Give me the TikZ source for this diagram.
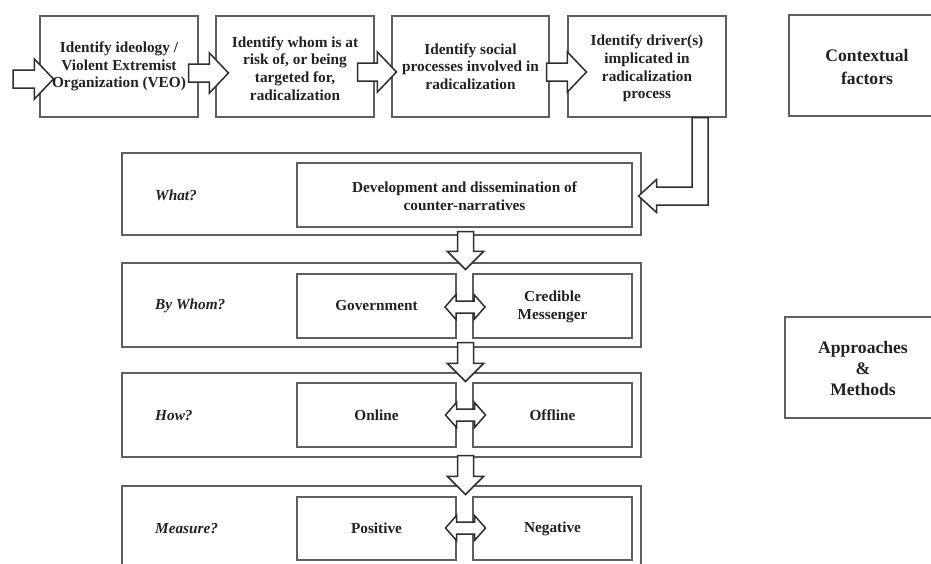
\documentclass[tikz,border=0pt]{standalone}
\usepackage{fontspec}
\setmainfont{Liberation Serif}
\usetikzlibrary{calc}
\definecolor{boxgray}{HTML}{5E5E5E}
\definecolor{arrowdark}{HTML}{2E2E2E}
\definecolor{txtdark}{HTML}{222222}
\tikzset{
  box/.style={draw=boxgray, line width=1.1pt, fill=white, inner sep=0pt},
  barrow/.style={draw=arrowdark, line width=1.5pt, fill=white, line join=miter},
  txt/.style={align=center, inner sep=0pt, text=txtdark,
    font=\fontsize{15.3}{17.7}\selectfont\bfseries},
  big/.style={align=center, inner sep=0pt, text=txtdark,
    font=\fontsize{17.6}{23}\selectfont\bfseries},
  bigb/.style={align=center, inner sep=0pt, text=txtdark,
    font=\fontsize{17.6}{21}\selectfont\bfseries},
  lbl/.style={anchor=west, inner sep=0pt, text=txtdark,
    font=\fontsize{15.3}{17.7}\selectfont\bfseries\itshape}
}
\newcommand{\blockH}[2]{%
  \draw[barrow] let \p1=(#1), \p2=(#2) in
   (\x1,\y1+9pt) -- (\x2-19pt,\y1+9pt) -- (\x2-19pt,\y1+20pt) -- (\x2,\y1)
   -- (\x2-19pt,\y1-20pt) -- (\x2-19pt,\y1-9pt) -- (\x1,\y1-9pt) -- cycle;}
\newcommand{\blockV}[2]{%
  \draw[barrow] let \p1=(#1), \p2=(#2) in
   (\x1-8pt,\y1) -- (\x1+8pt,\y1) -- (\x1+8pt,\y2+18pt) -- (\x1+18pt,\y2+18pt)
   -- (\x1,\y2) -- (\x1-18pt,\y2+18pt) -- (\x1-8pt,\y2+18pt) -- cycle;}
\newcommand{\blockD}[1]{%
  \draw[barrow] let \p1=(#1) in
   (\x1-20pt,\y1) -- (\x1-9pt,\y1+12.5pt) -- (\x1-9pt,\y1+6pt) -- (\x1+9pt,\y1+6pt)
   -- (\x1+9pt,\y1+12.5pt) -- (\x1+20pt,\y1) -- (\x1+9pt,\y1-12.5pt) -- (\x1+9pt,\y1-6pt)
   -- (\x1-9pt,\y1-6pt) -- (\x1-9pt,\y1-12.5pt) -- cycle;}
\begin{document}
\begin{tikzpicture}[x=1pt,y=-1pt]
\useasboundingbox[fill=white] (0,0) rectangle (931,563);

% top row
\node[box, minimum width=158pt, minimum height=101pt] (b1) at (119,66.5) {};
\node[box, minimum width=158pt, minimum height=101pt] (b2) at (295,66.5) {};
\node[box, minimum width=157pt, minimum height=101pt] (b3) at (470.5,66.5) {};
\node[box, minimum width=158pt, minimum height=101pt] (b4) at (647,66.5) {};
\node[box, minimum width=156pt, minimum height=101pt] (ctx) at (867,65.5) {};
\node[box, minimum width=156pt, minimum height=101pt] (apm) at (863,367.5) {};

% row frames
\node[box, minimum width=519pt, minimum height=82pt] (w)  at (381.5,194) {};
\node[box, minimum width=519pt, minimum height=84pt] (bw) at (381.5,305) {};
\node[box, minimum width=519pt, minimum height=84pt] (hw) at (381.5,415) {};
\node[box, minimum width=519pt, minimum height=84pt] (mw) at (381.5,528) {};

% inner boxes
\node[box, minimum width=335pt, minimum height=64pt] (dev) at (464.5,195) {};
\node[box, minimum width=159pt, minimum height=64pt] (gov) at (376.5,306) {};
\node[box, minimum width=159pt, minimum height=64pt] (cred) at (552.5,306) {};
\node[box, minimum width=159pt, minimum height=64pt] (onl) at (376.5,415) {};
\node[box, minimum width=159pt, minimum height=64pt] (offl) at (552.5,415) {};
\node[box, minimum width=159pt, minimum height=63pt] (pos) at (376.5,528.5) {};
\node[box, minimum width=159pt, minimum height=63pt] (neg) at (552.5,528.5) {};

% top row arrows
\coordinate (in0) at (13,79);
\blockH{in0}{$(b1.west)+(14,0)$}
\blockH{$(b1.east)+(-10,6.5)$}{$(b2.west)+(13,0)$}
\blockH{$(b2.east)+(-17,5.5)$}{$(b3.west)+(5,0)$}
\blockH{$(b3.east)+(-3,5.5)$}{$(b4.west)+(19,0)$}

% bent arrow from driver box to the What row
\draw[barrow] let \p1=($(b4.south)+(53,0)$), \p2=($(w.east)+(-3,2)$) in
  (\x1-8pt,\y1) -- (\x1+8pt,\y1) -- (\x1+8pt,\y2-9pt) -- (\x2+18pt,\y2-9pt)
  -- (\x2+18pt,\y2-16.5pt) -- (\x2,\y2) -- (\x2+18pt,\y2+16.5pt)
  -- (\x2+18pt,\y2+9pt) -- (\x1-8pt,\y2+9pt) -- cycle;

% down arrows
\coordinate (gx) at (465.5,0);
\blockV{$(w.south -| gx)+(0,-4)$}{$(bw.north -| gx)+(0,7)$}
\blockV{$(bw.south -| gx)+(0,-5)$}{$(hw.north -| gx)+(0,9)$}
\blockV{$(hw.south -| gx)+(0,-2)$}{$(mw.north -| gx)+(0,9)$}

% double arrows
\blockD{$(gov.east)!0.5!(cred.west)+(0.5,1)$}
\blockD{$(onl.east)!0.5!(offl.west)+(1,0)$}
\blockD{$(pos.east)!0.5!(neg.west)+(1,-0.5)$}

% texts
\node[txt] (t1) at (b1) {Identify ideology /\\Violent Extremist\\Organization (VEO)};
\node[txt] (t2) at ($(b2)+(0,2)$) {Identify whom is at\\risk of, or being\\targeted for,\\radicalization};
\node[txt] (t3) at (b3) {Identify social\\processes involved in\\radicalization};
\node[txt] (t4) at ($(b4)+(0,2)$) {Identify driver(s)\\implicated in\\radicalization\\process};
\node[big] (t5) at ($(ctx)+(0,1)$) {Contextual\\factors};
\node[bigb] (t6) at ($(apm)+(0,1)$) {Approaches\\\&\\Methods};

\node[lbl] (l1) at (155,195) {What?};
\node[lbl] (l2) at (155,306) {By Whom?};
\node[lbl] (l3) at (155,416) {How?};
\node[lbl] (l4) at (155,529) {Measure?};

\node[txt] (t7) at ($(dev)+(0,1)$) {Development and dissemination of\\counter-narratives};
\node[txt] (t8) at (gov) {Government};
\node[txt] (t9) at ($(cred)+(0,1)$) {Credible\\Messenger};
\node[txt] (t10) at (onl) {Online};
\node[txt] (t11) at (offl) {Offline};
\node[txt] (t12) at (pos) {Positive};
\node[txt] (t13) at (neg) {Negative};
\end{tikzpicture}
\end{document}
